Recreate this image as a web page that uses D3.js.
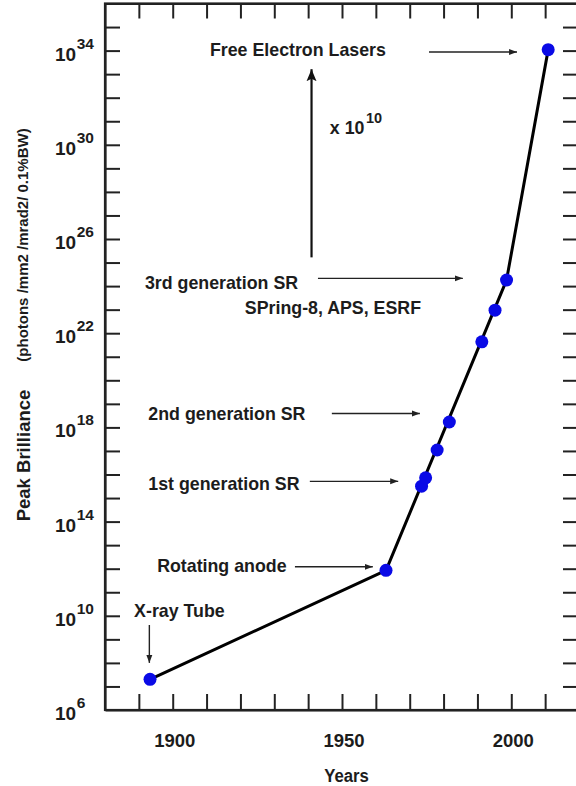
<!DOCTYPE html>
<html>
<head>
<meta charset="utf-8">
<script src="https://cdn.jsdelivr.net/npm/d3@7"></script>
<style>
  html, body { margin: 0; padding: 0; background: #fff; }
  svg { display: block; font-family: "Liberation Sans", Arial, sans-serif; }
</style>
</head>
<body>
<svg id="chart" width="576" height="786"></svg>
<script>
// ---- data ----
const sources = ["X-ray Tube", "Rotating anode", "1st gen SR a", "1st gen SR b", "2nd gen SR a", "2nd gen SR b",
                 "3rd gen SR a", "3rd gen SR b", "3rd gen SR c", "FEL"];
const years = [1893.3, 1963.0, 1973.5, 1974.7, 1978.1, 1981.7, 1991.3, 1995.2, 1998.6, 2010.9];
const brilliance = [2.0e7, 8.5e11, 3.2e15, 7.2e15, 1.1e17, 1.7e18, 4.3e21, 9.5e22, 1.8e24, 1.1e34];
const trendYears = [1893.3, 1963.0, 1998.6, 2010.9];
const trendBrilliance = [2.0e7, 8.5e11, 1.8e24, 1.1e34];
const yearTicks = [1900, 1950, 2000];
const minorYearTicks = [1890, 1900, 1910, 1920, 1930, 1940, 1950, 1960, 1970, 1980, 1990, 2000, 2010];
const exponentLabels = [6, 10, 14, 18, 22, 26, 30, 34];
const exponentTicks = [7, 8, 9, 10, 11, 12, 13, 14, 15, 16, 17, 18, 19, 20, 21, 22, 23, 24, 25, 26, 27, 28, 29, 30, 31, 32, 33, 34, 35];

// annotations in data coordinates (year, log10 brilliance)
const labels = [
  { text: "Free Electron Lasers", year: 1911.0, exp: 33.77 },
  { text: "3rd generation SR", year: 1891.8, exp: 23.86 },
  { text: "SPring-8, APS, ESRF", year: 1921.3, exp: 22.80 },
  { text: "2nd generation SR", year: 1892.8, exp: 18.33 },
  { text: "1st generation SR", year: 1892.8, exp: 15.35 },
  { text: "Rotating anode", year: 1895.4, exp: 11.87 },
  { text: "X-ray Tube", year: 1888.6, exp: 9.97 }
];
const arrows = [
  { y0: 1975.7, e0: 33.94, y1: 2001.7, e1: 33.94 },
  { y0: 1942.9, e0: 24.33, y1: 1985.7, e1: 24.33 },
  { y0: 1947.0, e0: 18.59, y1: 1973.0, e1: 18.59 },
  { y0: 1940.5, e0: 15.71, y1: 1966.6, e1: 15.71 },
  { y0: 1936.1, e0: 12.08, y1: 1959.1, e1: 12.08 },
  { y0: 1893.1, e0: 9.61, y1: 1893.1, e1: 8.0 }
];
const bigArrow = { year: 1941.0, e0: 25.22, e1: 33.21 };
const factorLabel = { year: 1946.4, exp: 30.45, base: "x 10", power: "10" };

// ---- chart ----
const svg = d3.select("#chart");
const plotL = 105, plotR = 579, plotT = 3.5, plotB = 710;
const x = d3.scaleLinear().domain([1880, 2020]).range([plotL, plotR]);
const y = d3.scaleLog().domain([1e6, 1e36]).range([plotB, plotT]);
const axisColor = "#222";
const textColor = "#1c1c1c";

svg.append("rect").attr("width", 576).attr("height", 786).attr("fill", "#fff");

// defs: arrowheads
const defs = svg.append("defs");
defs.append("marker").attr("id", "head").attr("markerUnits", "userSpaceOnUse")
  .attr("markerWidth", 9).attr("markerHeight", 7).attr("refX", 8).attr("refY", 3.5)
  .attr("orient", "auto")
  .append("path").attr("d", "M0,0.5 L8,3.5 L0,6.5 Z").attr("fill", "#222");
defs.append("marker").attr("id", "bighead").attr("markerUnits", "userSpaceOnUse")
  .attr("markerWidth", 14).attr("markerHeight", 11).attr("refX", 12).attr("refY", 5.5)
  .attr("orient", "auto")
  .append("path").attr("d", "M0,0.5 L12,5.5 L0,10.5 L2.5,5.5 Z").attr("fill", "#111");

// axes (ticks inward)
const tickVals = exponentTicks.map(e => Math.pow(10, e));
const gl = svg.append("g").attr("transform", `translate(${plotL},0)`)
  .call(d3.axisLeft(y).tickValues(tickVals).tickSizeInner(-15).tickSizeOuter(0).tickFormat(""));
const gr = svg.append("g").attr("transform", `translate(${plotR},0)`)
  .call(d3.axisRight(y).tickValues(tickVals).tickSizeInner(-16).tickSizeOuter(0).tickFormat(""));
const gb = svg.append("g").attr("transform", `translate(0,${plotB})`)
  .call(d3.axisBottom(x).tickValues(minorYearTicks).tickSizeInner(-16).tickSizeOuter(0).tickFormat(""));
const gt = svg.append("g").attr("transform", `translate(0,${plotT})`)
  .call(d3.axisTop(x).tickValues(minorYearTicks).tickSizeInner(-15).tickSizeOuter(0).tickFormat(""));
[gl, gr, gb, gt].forEach(g => {
  g.selectAll("path.domain").attr("stroke", axisColor).attr("stroke-width", 2.2);
  g.selectAll(".tick line").attr("stroke", axisColor).attr("stroke-width", 2);
});
svg.append("rect").attr("x", plotL).attr("y", plotT).attr("width", plotR - plotL).attr("height", plotB - plotT)
  .attr("fill", "none").attr("stroke", axisColor).attr("stroke-width", 2.2);

// y tick labels with superscripts
exponentLabels.forEach(e => {
  const t = svg.append("text").attr("x", 55).attr("y", y(Math.pow(10, e)) + 10)
    .attr("font-size", 19).attr("font-weight", "bold").attr("fill", textColor);
  t.append("tspan").text("10");
  t.append("tspan").attr("dx", 0.5).attr("dy", -12).attr("font-size", 15.5).text(String(e));
});

// x tick labels
yearTicks.forEach(v => {
  svg.append("text").attr("x", x(v) + 2).attr("y", 747).attr("text-anchor", "middle")
    .attr("font-size", 18.5).attr("font-weight", "bold").attr("fill", textColor).text(v);
});
svg.append("text").attr("text-anchor", "middle")
  .attr("transform", "translate(346.5,781.5) scale(0.88,1)")
  .attr("font-size", 19).attr("font-weight", "bold").attr("fill", textColor).text("Years");

// y axis titles
svg.append("text").attr("transform", "translate(30,455.5) rotate(-90)").attr("text-anchor", "middle")
  .attr("font-size", 18.5).attr("font-weight", "bold").attr("fill", textColor).text("Peak Brilliance");
svg.append("text").attr("transform", "translate(28,245) rotate(-90)").attr("text-anchor", "middle")
  .attr("font-size", 15).attr("font-weight", "bold").attr("fill", textColor).text("(photons /mm2 /mrad2/ 0.1%BW)");

// trend line
const line = d3.line().x(d => x(d[0])).y(d => y(d[1]));
svg.append("path").datum(d3.zip(trendYears, trendBrilliance)).attr("d", line)
  .attr("fill", "none").attr("stroke", "#000").attr("stroke-width", 3).attr("stroke-linejoin", "round");

// points
svg.append("g").selectAll("circle").data(d3.zip(years, brilliance)).join("circle")
  .attr("cx", d => x(d[0])).attr("cy", d => y(d[1])).attr("r", 6.5).attr("fill", "#0a0ae6");

// annotation arrows
svg.append("g").selectAll("line").data(arrows).join("line")
  .attr("x1", d => x(d.y0)).attr("y1", d => y(Math.pow(10, d.e0)))
  .attr("x2", d => x(d.y1)).attr("y2", d => y(Math.pow(10, d.e1)))
  .attr("stroke", "#222").attr("stroke-width", 1.4).attr("marker-end", "url(#head)");
svg.append("line").attr("x1", x(bigArrow.year)).attr("x2", x(bigArrow.year))
  .attr("y1", y(Math.pow(10, bigArrow.e0))).attr("y2", y(Math.pow(10, bigArrow.e1)))
  .attr("stroke", "#111").attr("stroke-width", 2.2).attr("marker-end", "url(#bighead)");

// annotation labels
svg.append("g").selectAll("text").data(labels).join("text")
  .attr("x", d => x(d.year)).attr("y", d => y(Math.pow(10, d.exp)))
  .attr("font-size", 17.8).attr("font-weight", "bold").attr("fill", textColor).text(d => d.text);
const fl = svg.append("text").attr("x", x(factorLabel.year)).attr("y", y(Math.pow(10, factorLabel.exp)))
  .attr("font-size", 17.8).attr("font-weight", "bold").attr("fill", textColor);
fl.append("tspan").text(factorLabel.base);
fl.append("tspan").attr("dx", 1.5).attr("dy", -11).attr("font-size", 14.5).text(factorLabel.power);
</script>
</body>
</html>
